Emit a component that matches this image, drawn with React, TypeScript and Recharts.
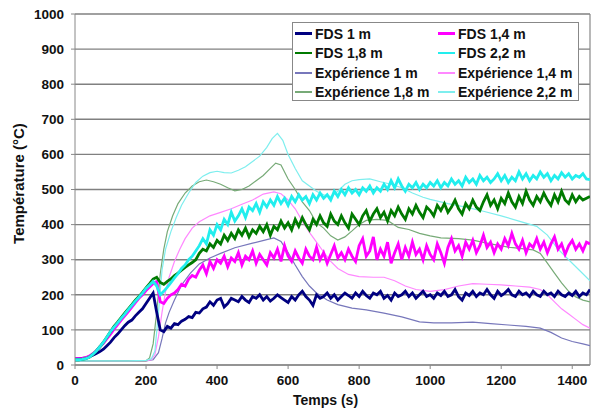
import React from 'react';
import { LineChart, Line, XAxis, YAxis, CartesianGrid, ReferenceLine } from 'recharts';

// ---- time grid for FDS series (10 s step, 0..1450 s)
const fdsTimes: number[] = Array.from({ length: 146 }, (_, i) => i * 10);

const fds1: number[] = [
  18, 18, 19, 20, 24, 28, 33, 38, 45, 55, 65, 78, 88, 100, 112, 122, 128, 140, 150, 160,
  175, 190, 205, 150, 100, 95, 110, 105, 118, 115, 125, 130, 138, 135, 150, 148, 160, 165, 180, 170,
  185, 190, 165, 175, 190, 185, 180, 195, 185, 178, 195, 190, 200, 185, 195, 182, 190, 200, 192, 185,
  178, 195, 185, 200, 210, 195, 185, 170, 200, 190, 195, 205, 190, 200, 185, 195, 205, 198, 190, 205,
  195, 210, 198, 190, 205, 200, 210, 190, 198, 185, 205, 195, 200, 210, 195, 205, 190, 200, 210, 195,
  200, 190, 205, 198, 210, 195, 200, 215, 195, 185, 205, 198, 210, 195, 205, 200, 215, 200, 190, 210,
  198, 205, 215, 200, 195, 210, 200, 205, 195, 210, 200, 195, 210, 200, 205, 195, 210, 200, 195, 205,
  198, 210, 195, 205, 200, 215,
];

const fds14: number[] = [
  18, 18, 19, 21, 25, 32, 40, 52, 62, 75, 88, 102, 115, 128, 140, 152, 165, 178, 190, 200,
  212, 222, 232, 238, 180, 175, 190, 200, 205, 215, 230, 225, 245, 255, 250, 270, 285, 260, 295, 275,
  300, 290, 310, 280, 305, 295, 320, 285, 310, 300, 325, 290, 315, 300, 285, 320, 305, 330, 295, 340,
  310, 295, 325, 305, 290, 330, 310, 300, 335, 300, 320, 290, 315, 340, 305, 320, 300, 330, 310, 295,
  340, 360, 310, 325, 365, 300, 330, 310, 350, 290, 320, 345, 300, 335, 310, 350, 315, 330, 300, 340,
  315, 300, 345, 320, 290, 335, 360, 325, 340, 310, 350, 330, 355, 320, 340, 370, 335, 350, 320, 345,
  330, 360, 340, 375, 345, 330, 355, 320, 345, 335, 360, 330, 350, 320, 345, 365, 330, 345, 315, 340,
  355, 330, 345, 325, 350, 345,
];

const fds18: number[] = [
  15, 15, 16, 18, 22, 30, 40, 52, 65, 80, 95, 110, 122, 135, 148, 160, 172, 185, 195, 207,
  220, 232, 245, 250, 235, 230, 238, 245, 255, 262, 270, 278, 285, 292, 300, 318, 330, 325, 345, 335,
  355, 345, 370, 355, 375, 360, 385, 370, 390, 365, 385, 375, 395, 380, 400, 370, 395, 385, 410, 390,
  405, 385, 415, 395, 420, 400, 385, 415, 400, 425, 405, 395, 430, 410, 400, 425, 405, 390, 430, 415,
  400, 425, 440, 410, 430, 445, 420, 435, 410, 440, 425, 450, 430, 415, 445, 430, 455, 435, 420, 450,
  440, 425, 455, 440, 460, 435, 450, 470, 445, 430, 460, 445, 470, 450, 440, 465, 485, 455, 470, 445,
  475, 460, 490, 465, 450, 480, 460, 495, 470, 455, 480, 465, 490, 470, 455, 485, 465, 495, 470, 460,
  485, 465, 480, 470, 475, 480,
];

const fds22: number[] = [
  15, 15, 16, 18, 22, 30, 40, 52, 65, 80, 95, 108, 120, 133, 145, 158, 170, 182, 193, 205,
  218, 228, 238, 225, 200, 210, 222, 235, 248, 260, 275, 285, 300, 310, 325, 340, 360, 345, 385, 370,
  400, 385, 415, 400, 435, 410, 425, 445, 420, 450, 440, 460, 435, 465, 450, 470, 455, 480, 460, 475,
  455, 480, 465, 485, 470, 480, 460, 485, 470, 490, 475, 485, 470, 495, 480, 500, 485, 505, 490, 500,
  485, 505, 495, 510, 490, 505, 495, 515, 500, 525, 505, 530, 510, 495, 515, 505, 520, 500, 515, 505,
  520, 510, 525, 505, 520, 510, 530, 515, 525, 510, 535, 520, 530, 515, 540, 525, 535, 520, 530, 545,
  525, 540, 520, 535, 525, 550, 530, 545, 525, 540, 530, 550, 535, 545, 525, 540, 530, 548, 535, 545,
  530, 540, 535, 545, 530, 528,
];

// ---- experimental series (smooth, own time bases)
const exp1Times: number[] = [0, 50, 100, 150, 200, 220, 235, 245, 255, 265, 280, 300, 325, 350, 380, 410, 450, 500, 540, 560, 580, 600, 620, 640, 660, 680, 710, 740, 780, 820, 870, 920, 970, 1010, 1060, 1120, 1170, 1220, 1270, 1310, 1340, 1370, 1400, 1430, 1450];
const exp1Values: number[] = [12, 12, 12, 12, 12, 15, 35, 75, 120, 150, 185, 228, 262, 288, 305, 318, 334, 347, 357, 362, 352, 320, 285, 252, 225, 205, 185, 172, 162, 157, 148, 137, 123, 120, 120, 122, 118, 114, 110, 105, 93, 77, 67, 60, 55];

const exp14Times: number[] = [0, 50, 100, 150, 200, 215, 225, 235, 245, 255, 265, 280, 295, 310, 330, 350, 380, 410, 440, 470, 500, 530, 560, 580, 600, 620, 640, 660, 680, 700, 720, 740, 770, 800, 840, 870, 900, 930, 960, 1000, 1040, 1080, 1120, 1160, 1200, 1240, 1280, 1310, 1330, 1350, 1370, 1390, 1410, 1430, 1450];
const exp14Values: number[] = [12, 12, 12, 12, 12, 15, 30, 80, 150, 210, 250, 295, 330, 360, 390, 408, 425, 435, 445, 458, 470, 487, 493, 488, 470, 445, 410, 378, 350, 322, 295, 275, 258, 252, 250, 250, 240, 225, 215, 210, 215, 225, 232, 230, 228, 225, 222, 215, 200, 180, 160, 145, 130, 115, 105];

const exp18Times: number[] = [0, 50, 100, 150, 200, 210, 220, 230, 240, 250, 260, 275, 290, 310, 330, 350, 370, 390, 410, 430, 450, 470, 490, 510, 530, 550, 565, 580, 600, 620, 640, 660, 680, 700, 720, 740, 760, 780, 800, 820, 850, 880, 910, 940, 970, 1000, 1030, 1080, 1120, 1170, 1220, 1290, 1310, 1330, 1350, 1370, 1390, 1410, 1430, 1450];
const exp18Values: number[] = [12, 12, 12, 12, 12, 20, 60, 150, 260, 330, 380, 425, 460, 490, 510, 522, 527, 522, 515, 505, 496, 500, 510, 525, 540, 560, 575, 570, 530, 500, 465, 440, 405, 390, 368, 356, 365, 382, 400, 412, 415, 412, 392, 386, 375, 368, 362, 360, 356, 345, 336, 328, 318, 290, 262, 234, 210, 194, 185, 180];

const exp22Times: number[] = [0, 50, 100, 150, 200, 215, 225, 235, 245, 255, 270, 285, 300, 320, 340, 360, 380, 400, 420, 440, 460, 480, 500, 520, 540, 555, 570, 585, 600, 620, 640, 660, 680, 700, 720, 740, 760, 780, 800, 830, 860, 890, 920, 950, 980, 1000, 1050, 1100, 1150, 1200, 1250, 1300, 1330, 1360, 1390, 1420, 1450];
const exp22Values: number[] = [12, 12, 12, 12, 13, 18, 40, 150, 270, 330, 380, 420, 455, 490, 520, 538, 548, 552, 548, 547, 555, 565, 580, 595, 620, 645, 660, 640, 600, 560, 525, 510, 495, 485, 480, 495, 515, 525, 528, 530, 522, 515, 505, 490, 478, 472, 460, 450, 438, 425, 410, 395, 370, 330, 300, 270, 240];

const xTicks: number[] = [0, 200, 400, 600, 800, 1000, 1200, 1400];
const yTicks: number[] = [0, 100, 200, 300, 400, 500, 600, 700, 800, 900, 1000];

const seriesNames: string[] = [
  'FDS 1 m', 'FDS 1,4 m', 'FDS 1,8 m', 'FDS 2,2 m',
  'Expérience 1 m', 'Expérience 1,4 m', 'Expérience 1,8 m', 'Expérience 2,2 m',
];
const seriesColors: string[] = [
  '#000080', '#FF00FF', '#007A00', '#22EEEE',
  '#7777BB', '#FF88FF', '#77AA77', '#7EEEEE',
];

const zip = (ts: number[], vs: number[]) => ts.map((t, i) => ({ t, v: vs[i] }));

const fdsData = [fds1, fds14, fds18, fds22].map((vs) => zip(fdsTimes, vs));
const expData = [
  zip(exp1Times, exp1Values),
  zip(exp14Times, exp14Values),
  zip(exp18Times, exp18Values),
  zip(exp22Times, exp22Values),
];

const FONT = '"Liberation Sans", Arial, sans-serif';
const tickStyle = { fontFamily: FONT, fontSize: 13.5, fontWeight: 700, fill: '#111' };

const legendOrder = [0, 1, 2, 3, 4, 5, 6, 7];

export default function App() {
  return (
    <div style={{ position: 'absolute', left: 0, top: 0, width: 595, height: 410, background: '#fff' }}>
      <LineChart width={595} height={410} margin={{ top: 14, right: 5, bottom: 0, left: 0 }}>
        <CartesianGrid vertical={false} stroke="#808080" strokeWidth={1.4} />
        <XAxis
          type="number"
          dataKey="t"
          domain={[0, 1450]}
          ticks={xTicks}
          allowDataOverflow
          height={45}
          tickSize={4}
          tickMargin={6}
          tick={tickStyle}
          stroke="#888"
          label={{
            content: (p: any) => {
              const vb = p.viewBox;
              return (
                <text x={vb.x + vb.width / 2 - 7} y={vb.y + 40} textAnchor="middle"
                  style={{ fontFamily: FONT, fontSize: 14, fontWeight: 700, fill: '#111' }}>
                  Temps (s)
                </text>
              );
            },
          }}
        />
        <YAxis
          type="number"
          domain={[0, 1000]}
          ticks={yTicks}
          width={75}
          tickSize={4}
          tickMargin={7}
          tick={tickStyle}
          stroke="#888"
          label={{
            content: (p: any) => {
              const vb = p.viewBox;
              const cx = vb.x + 24;
              const cy = vb.y + vb.height / 2 - 6;
              return (
                <text x={cx} y={cy} textAnchor="middle" transform={`rotate(-90, ${cx}, ${cy})`}
                  style={{ fontFamily: FONT, fontSize: 15, fontWeight: 700, fill: '#111' }}>
                  Température (°C)
                </text>
              );
            },
          }}
        />
        <ReferenceLine x={1450} stroke="#888" strokeWidth={1.2} ifOverflow="extendDomain" />
        {expData.map((d, i) => (
          <Line key={'e' + i} data={d} dataKey="v" type="linear" dot={false}
            stroke={seriesColors[4 + i]} strokeWidth={1.2} isAnimationActive={false} name={seriesNames[4 + i]} />
        ))}
        {fdsData.map((d, i) => (
          <Line key={'f' + i} data={d} dataKey="v" type="linear" dot={false}
            stroke={seriesColors[i]} strokeWidth={2.8} isAnimationActive={false} name={seriesNames[i]} />
        ))}
      </LineChart>
      <div style={{
        position: 'absolute', left: 292, top: 22, width: 287, height: 79,
        border: '1px solid #888', background: '#fff', boxSizing: 'border-box',
      }}>
        {legendOrder.map((idx) => {
          const col = idx % 2;
          const row = Math.floor(idx / 2);
          const left = col === 0 ? 2 : 145;
          const top = 1 + row * 19.5;
          return (
            <div key={idx} style={{ position: 'absolute', left, top, height: 19, display: 'flex', alignItems: 'center' }}>
              <div style={{ width: 17, height: idx < 4 ? 2.5 : 2, background: seriesColors[idx] }} />
              <span style={{ marginLeft: 3, fontFamily: FONT, fontSize: 14, fontWeight: 700, color: '#111', whiteSpace: 'nowrap' }}>
                {seriesNames[idx]}
              </span>
            </div>
          );
        })}
      </div>
    </div>
  );
}
